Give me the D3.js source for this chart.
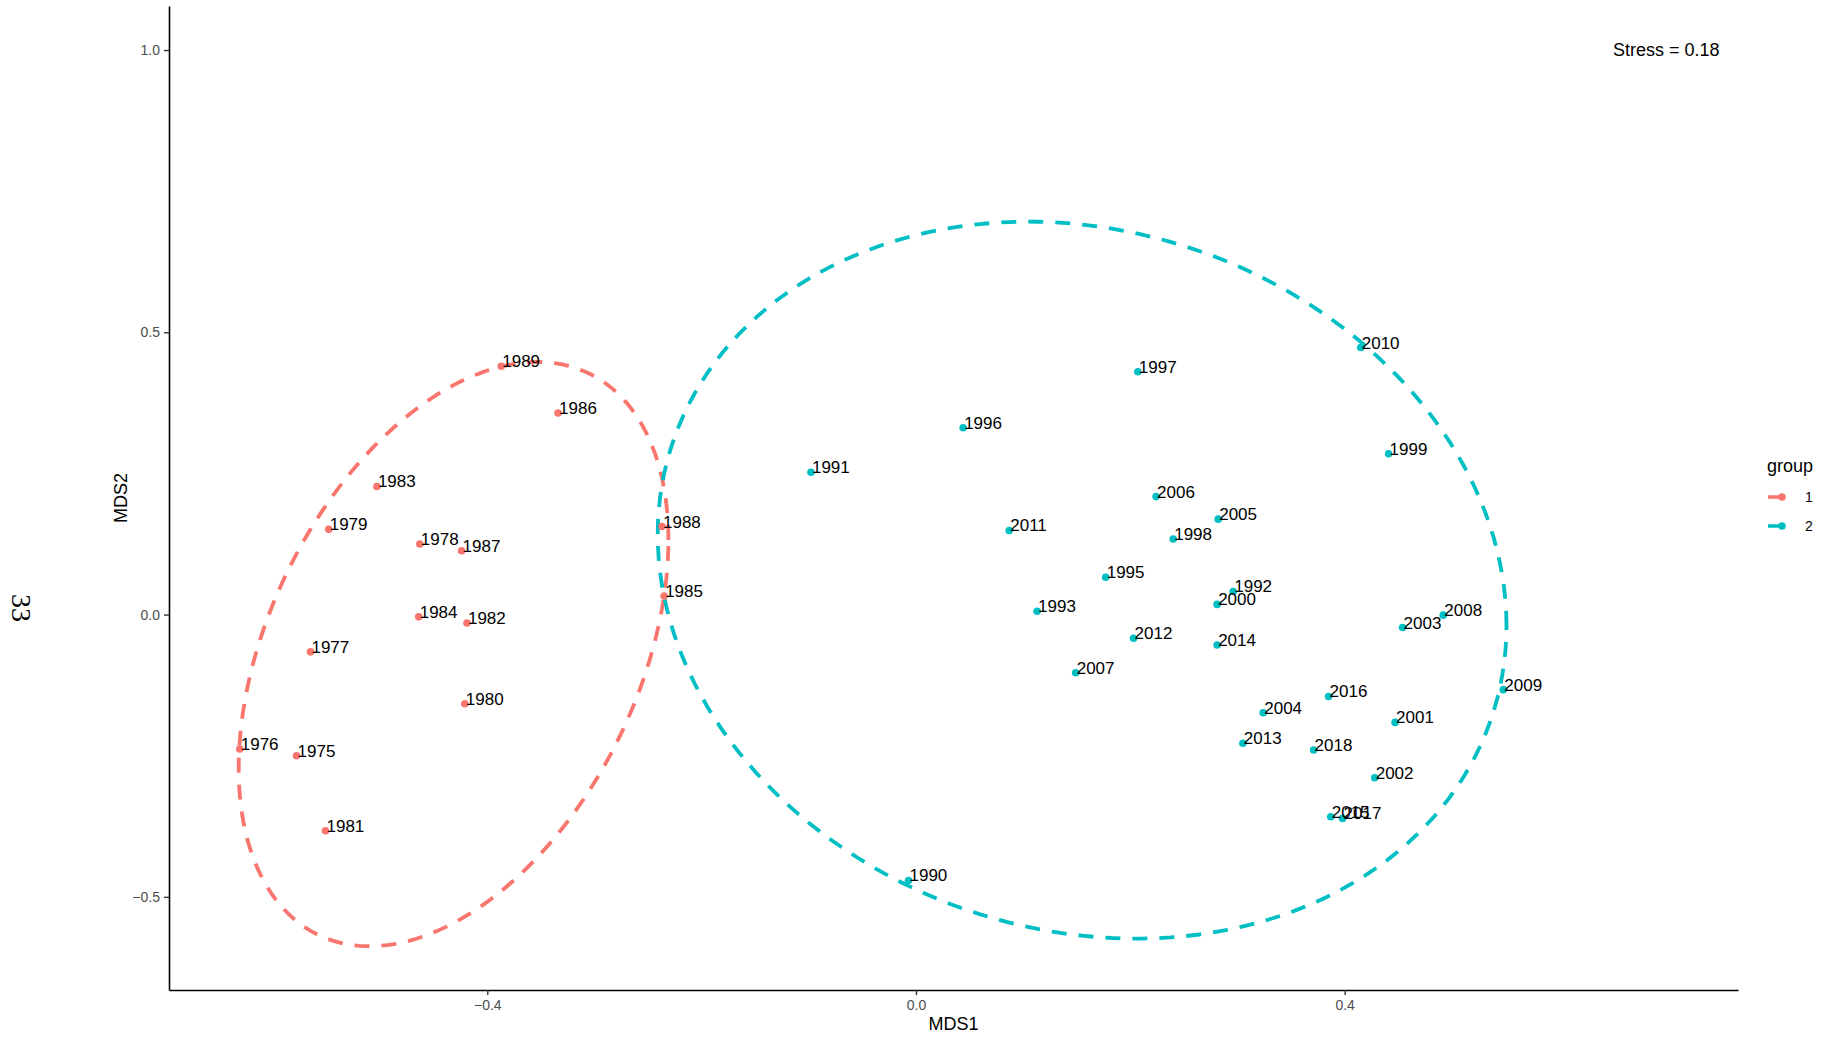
<!DOCTYPE html>
<html>
<head>
<meta charset="utf-8">
<script src="https://cdn.jsdelivr.net/npm/d3@7"></script>
<style>
  body { margin: 0; background: white; }
  text { font-family: "Liberation Sans", Arial, sans-serif; }
</style>
</head>
<body>
<svg id="chart" width="1829" height="1038"></svg>
<script>
// Data
const years = [1975, 1976, 1977, 1978, 1979, 1980, 1981, 1982, 1983, 1984, 1985, 1986, 1987, 1988, 1989,
               1990, 1991, 1992, 1993, 1995, 1996, 1997, 1998, 1999, 2000, 2001, 2002, 2003, 2004,
               2005, 2006, 2007, 2008, 2009, 2010, 2011, 2012, 2013, 2014, 2015, 2016, 2017, 2018]
const mds1 = [-0.578, -0.631, -0.565, -0.463, -0.548, -0.421, -0.551, -0.419, -0.503, -0.464, -0.235, -0.334, -0.424, -0.237, -0.387,
              -0.007, -0.098, 0.296, 0.113, 0.177, 0.044, 0.207, 0.240, 0.441, 0.281, 0.447, 0.428, 0.454, 0.324,
              0.282, 0.224, 0.149, 0.492, 0.548, 0.415, 0.087, 0.203, 0.305, 0.281, 0.387, 0.385, 0.398, 0.371]
const mds2 = [-0.250, -0.238, -0.066, 0.125, 0.151, -0.158, -0.383, -0.015, 0.227, -0.004, 0.033, 0.357, 0.113, 0.156, 0.440,
              -0.471, 0.252, 0.041, 0.006, 0.066, 0.331, 0.430, 0.134, 0.285, 0.018, -0.191, -0.289, -0.023, -0.174,
              0.169, 0.209, -0.103, -0.001, -0.133, 0.473, 0.149, -0.042, -0.228, -0.054, -0.358, -0.145, -0.361, -0.240]
const groups = years.map(y => y < 1990 ? "1" : "2")

// ellipse per group: centre and spread (covariance-like, data units)
const groupNames = ["1", "2"]
const ellipseCentreX = [-0.4315, 0.155]
const ellipseCentreY = [-0.070, 0.061]
const ellipseSxx = [0.0402, 0.1568]
const ellipseSxy = [0.0405, -0.032]
const ellipseSyy = [0.2678, 0.4032]

const xTicks = [-0.4, 0.0, 0.4]
const yTicks = [-0.5, 0.0, 0.5, 1.0]
const stressLabel = "Stress = 0.18"

// Layout
const width = 1829, height = 1038
const margin = {top: 6, right: 91, bottom: 48, left: 169}
const colours = {"1": "#F8766D", "2": "#00BFC4"}

const svg = d3.select("#chart")

const x = d3.scaleLinear()
    .domain([-0.697, 0.767])
    .range([margin.left, width - margin.right])
const y = d3.scaleLinear()
    .domain([-0.665, 1.078])
    .range([height - margin.bottom, margin.top])

// Axes
const xAxis = svg.append("g")
    .attr("transform", "translate(0," + (height - margin.bottom) + ")")
    .call(d3.axisBottom(x).tickValues(xTicks).tickFormat(d3.format(".1f")).tickSizeInner(5).tickSizeOuter(0))
const yAxis = svg.append("g")
    .attr("transform", "translate(" + margin.left + ",0)")
    .call(d3.axisLeft(y).tickValues(yTicks).tickFormat(d3.format(".1f")).tickSizeInner(5).tickSizeOuter(0))

;[xAxis, yAxis].forEach(function(ax){
    ax.select(".domain").attr("stroke", "black").attr("stroke-width", 1.6)
    ax.selectAll(".tick line").attr("stroke", "#333").attr("stroke-width", 1.4)
    ax.selectAll(".tick text")
        .attr("fill", "#4D4D4D")
        .style("font-size", "14px")
        .style("font-family", "'Liberation Sans', Arial, sans-serif")
})
xAxis.selectAll(".tick text").attr("dy", "0.95em").attr("y", 7)
yAxis.selectAll(".tick text").attr("x", -9)

// Axis titles
svg.append("text")
    .attr("x", (margin.left + width - margin.right) / 2)
    .attr("y", 1030)
    .attr("text-anchor", "middle")
    .style("font-size", "18px")
    .text("MDS1")
svg.append("text")
    .attr("transform", "translate(127," + ((margin.top + height - margin.bottom) / 2) + ") rotate(-90)")
    .attr("text-anchor", "middle")
    .style("font-size", "18px")
    .text("MDS2")

// stray "33" on the left edge
svg.append("text")
    .attr("transform", "translate(12,608) rotate(90)")
    .attr("text-anchor", "middle")
    .style("font-family", "'Liberation Serif', serif")
    .style("font-size", "28px")
    .text("33")

// Ellipses
const angles = d3.range(0, 361, 2).map(a => a * Math.PI / 180)
groupNames.forEach(function(g, i){
    const a = Math.sqrt(ellipseSxx[i])
    const b21 = ellipseSxy[i] / a
    const b22 = Math.sqrt(ellipseSyy[i] - b21 * b21)
    const line = d3.line()
        .x(t => x(ellipseCentreX[i] + a * Math.cos(t)))
        .y(t => y(ellipseCentreY[i] + b21 * Math.cos(t) + b22 * Math.sin(t)))
    svg.append("path")
        .datum(angles)
        .attr("d", line)
        .attr("fill", "none")
        .attr("stroke", colours[g])
        .attr("stroke-width", 3.8)
        .attr("stroke-dasharray", "15 12")
})

// Points and labels
const pts = years.map((yr, i) => ({year: yr, x: mds1[i], y: mds2[i], group: groups[i]}))

svg.append("g").selectAll("circle")
    .data(pts)
    .join("circle")
    .attr("cx", d => x(d.x))
    .attr("cy", d => y(d.y))
    .attr("r", 3.8)
    .attr("fill", d => colours[d.group])

svg.append("g").selectAll("text")
    .data(pts)
    .join("text")
    .attr("x", d => x(d.x) + 1)
    .attr("y", d => y(d.y) + 1)
    .style("font-size", "17px")
    .attr("fill", "black")
    .text(d => d.year)

// Stress annotation
svg.append("text")
    .attr("x", x(0.7))
    .attr("y", y(1.0))
    .attr("dy", "0.35em")
    .attr("text-anchor", "middle")
    .style("font-size", "18px")
    .text(stressLabel)

// Legend
const legend = svg.append("g").attr("transform", "translate(1767,0)")
legend.append("text")
    .attr("x", 0)
    .attr("y", 472)
    .style("font-size", "18px")
    .text("group")
groupNames.forEach(function(g, i){
    const ky = 497 + i * 29
    legend.append("line")
        .attr("x1", 1).attr("x2", 15)
        .attr("y1", ky).attr("y2", ky)
        .attr("stroke", colours[g])
        .attr("stroke-width", 3.5)
    legend.append("circle")
        .attr("cx", 15).attr("cy", ky)
        .attr("r", 3.8)
        .attr("fill", colours[g])
    legend.append("text")
        .attr("x", 38).attr("y", ky)
        .attr("dy", "0.35em")
        .style("font-size", "14px")
        .text(g)
})
</script>
</body>
</html>
